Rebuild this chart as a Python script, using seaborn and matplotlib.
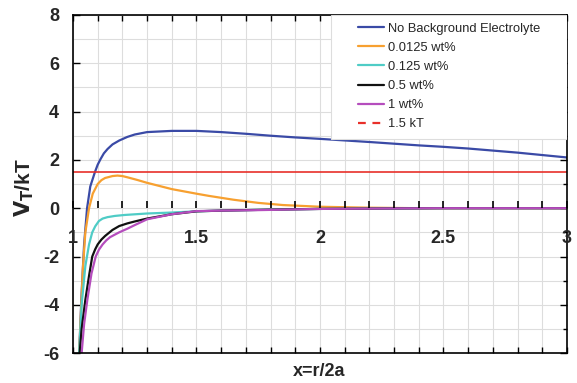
import matplotlib
matplotlib.use("Agg")
import matplotlib.pyplot as plt
import matplotlib.ticker as mticker
from matplotlib.patches import Rectangle
import numpy as np
import pandas as pd
import seaborn as sns

series_names = ["No Background Electrolyte", "0.0125 wt%", "0.125 wt%", "0.5 wt%", "1 wt%"]
colors = ["#3A4AA6", "#F7A030", "#4FCCC6", "#111111", "#B54DBD"]

x_none = [1.025, 1.035, 1.045, 1.057, 1.07, 1.089, 1.1, 1.112, 1.125, 1.14, 1.16, 1.187, 1.22, 1.25, 1.3, 1.4, 1.5, 1.6, 1.7, 1.8, 1.9, 2.0, 2.2, 2.4, 2.5, 2.6, 2.8, 3.0]
y_none = [-6.0, -3.5, -1.5, 0.0, 0.9, 1.5, 1.8, 2.04, 2.27, 2.45, 2.64, 2.8, 2.95, 3.05, 3.15, 3.2, 3.2, 3.15, 3.08, 3.0, 2.93, 2.87, 2.74, 2.6, 2.54, 2.47, 2.3, 2.1]

x_0125 = [1.025, 1.04, 1.05, 1.065, 1.08, 1.1, 1.115, 1.13, 1.16, 1.18, 1.2, 1.22, 1.26, 1.3, 1.4, 1.5, 1.55, 1.65, 1.75, 1.85, 2.0, 2.2, 2.4, 2.6, 3.0]
y_0125 = [-6.0, -2.5, -1.0, 0.0, 0.6, 1.0, 1.16, 1.25, 1.33, 1.35, 1.33, 1.28, 1.17, 1.05, 0.79, 0.6, 0.51, 0.35, 0.22, 0.13, 0.06, 0.02, 0.0, 0.0, 0.0]

x_125 = [1.025, 1.035, 1.05, 1.065, 1.078, 1.09, 1.105, 1.12, 1.14, 1.17, 1.21, 1.3, 1.4, 1.5, 1.6, 1.75, 2.0, 2.3, 2.5, 3.0]
y_125 = [-6.0, -4.0, -2.4, -1.5, -1.0, -0.75, -0.53, -0.43, -0.37, -0.32, -0.28, -0.22, -0.18, -0.13, -0.1, -0.07, -0.03, -0.01, 0.0, 0.0]

x_05 = [1.027, 1.035, 1.05, 1.065, 1.078, 1.09, 1.1, 1.115, 1.13, 1.16, 1.187, 1.22, 1.25, 1.3, 1.4, 1.5, 1.6, 1.8, 2.0, 2.3, 2.5, 3.0]
y_05 = [-6.0, -5.0, -3.8, -2.8, -2.0, -1.7, -1.5, -1.3, -1.15, -0.9, -0.74, -0.63, -0.55, -0.43, -0.25, -0.13, -0.1, -0.06, -0.03, -0.01, 0.0, 0.0]

x_1 = [1.035, 1.045, 1.058, 1.075, 1.092, 1.105, 1.12, 1.135, 1.15, 1.187, 1.22, 1.25, 1.3, 1.4, 1.5, 1.6, 1.75, 2.0, 2.3, 2.5, 3.0]
y_1 = [-6.0, -4.8, -3.8, -2.7, -2.0, -1.72, -1.5, -1.33, -1.2, -1.0, -0.85, -0.7, -0.46, -0.25, -0.12, -0.1, -0.08, -0.03, -0.01, 0.0, 0.0]

ref_level = 1.5
ref_x = [1.0, 3.0]
x_tick_labels = [1, 1.5, 2, 2.5, 3]

xs = [x_none, x_0125, x_125, x_05, x_1]
ys = [y_none, y_0125, y_125, y_05, y_1]
frames = []
for name, xv, yv in zip(series_names, xs, ys):
    frames.append(pd.DataFrame({"x": xv, "y": yv, "series": name}))
df = pd.concat(frames, ignore_index=True)

sns.set_style("white")
plt.rcParams["font.family"] = ["Liberation Sans", "DejaVu Sans"]
plt.rcParams["axes.unicode_minus"] = False

fig = plt.figure(figsize=(5.77, 3.83), dpi=100)
ax = fig.add_axes([0.1265, 0.078, 0.856, 0.883])

sns.lineplot(data=df, x="x", y="y", hue="series", hue_order=series_names,
             palette=colors, linewidth=1.6, sort=False, ax=ax, estimator=None)
ax.plot(ref_x, [ref_level, ref_level], color="#E8302A", linewidth=1.2, label="1.5 kT")

ax.set_xlim(1, 3)
ax.set_ylim(-6, 8)

ax.xaxis.set_major_locator(mticker.MultipleLocator(0.5))
ax.xaxis.set_minor_locator(mticker.MultipleLocator(0.1))
ax.yaxis.set_major_locator(mticker.MultipleLocator(2))
ax.yaxis.set_minor_locator(mticker.MultipleLocator(1))
ax.grid(True, which="both", color="#DDDDDD", linewidth=0.8)
ax.set_axisbelow(True)

ax.tick_params(axis="x", which="both", direction="in", bottom=True, top=True,
               labelbottom=False, length=4, width=1, color="black")
ax.tick_params(axis="y", which="major", direction="in", left=True, right=True,
               length=5, width=1, labelsize=13, pad=10, color="black")
ax.tick_params(axis="y", which="minor", direction="in", left=False, right=True,
               length=3, width=1, color="black")
for lab in ax.get_yticklabels():
    lab.set_fontweight("bold")
for s in ax.spines.values():
    s.set_color("black")
    s.set_linewidth(1.2)

# secondary x axis at y = 0 carrying the labels
sec = ax.secondary_xaxis(6 / 14)
sec.set_zorder(3)
sec.xaxis.set_major_locator(mticker.FixedLocator(x_tick_labels))
sec.xaxis.set_minor_locator(mticker.MultipleLocator(0.1))
sec.spines["bottom"].set_visible(False)
sec.tick_params(axis="x", which="both", direction="in", length=5, width=1.2,
                labelsize=13, pad=16, color="black")
sec.xaxis.set_major_formatter(mticker.FixedFormatter([f"{v:g}" for v in x_tick_labels]))
for lab in sec.get_xticklabels():
    lab.set_fontweight("bold")

ax.set_xlabel("")
ax.set_ylabel(r"$\mathbf{V_T}$/kT", fontsize=15, fontweight="bold")
ax.yaxis.set_label_coords(-0.074, 0.49)
fig.text(0.553, 0.029, "x=r/2a", ha="center", va="center", fontsize=13, fontweight="bold")

# legend frame
ax.add_patch(Rectangle((0.523, 0.634), 0.477, 0.366, transform=ax.transAxes,
                       facecolor="white", edgecolor="#DDDDDD", linewidth=0.8, zorder=4))
leg = ax.legend(loc="upper left", bbox_to_anchor=(0.572, 0.985), fontsize=9.3, frameon=False,
                handlelength=2.0, borderaxespad=0.0, borderpad=0.2, labelspacing=0.55,
                handletextpad=0.3)
leg.set_zorder(5)
leg_handles = leg.legend_handles
leg_handles[-1].set_linestyle((0, (3.5, 3)))
for h in leg_handles:
    h.set_linewidth(1.6)

fig.savefig("out.png", dpi=100)
